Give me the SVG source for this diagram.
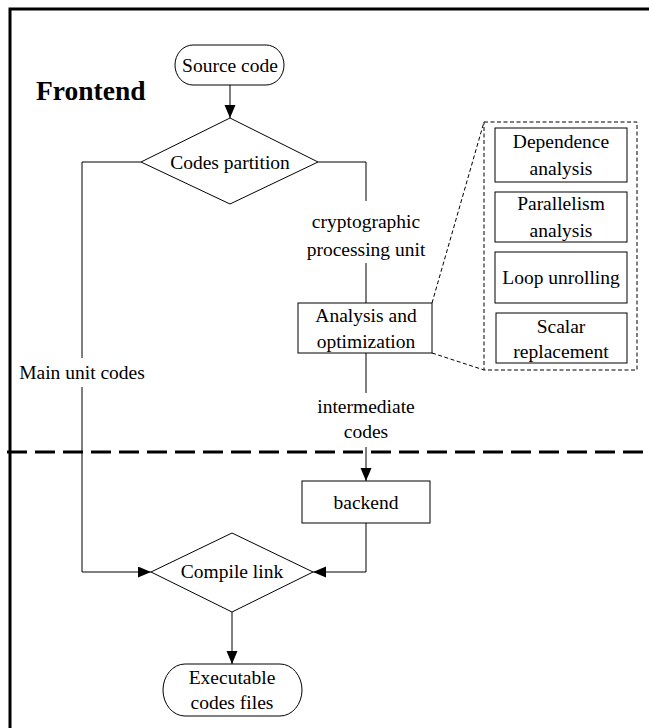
<svg xmlns="http://www.w3.org/2000/svg" width="649" height="728" viewBox="0 0 649 728">
<style>
text{font-family:"Liberation Serif","Times New Roman",serif;font-size:19.5px;fill:#000;text-anchor:middle}
.title{font-size:27.5px;font-weight:bold;text-anchor:start}
.sh{fill:#fff;stroke:#000;stroke-width:1}
.ln{fill:none;stroke:#000;stroke-width:1}
.dl{fill:none;stroke:#000;stroke-width:1;stroke-dasharray:4 2.5}
</style>
<defs>
<marker id="ah" markerUnits="userSpaceOnUse" markerWidth="14" markerHeight="12" refX="13" refY="5.5" orient="auto">
<path d="M0,0 L13,5.5 L0,11 z" fill="#000"/>
</marker>
</defs>
<rect width="649" height="728" fill="#fff"/>
<g id="frame">
<path d="M10,728 V9 H649" fill="none" stroke="#000" stroke-width="3"/>
<line x1="7" y1="452" x2="649" y2="452" stroke="#000" stroke-width="3" stroke-dasharray="20 8"/>
<text class="title" x="36" y="100">Frontend</text>
</g>
<g id="connectors">
<line class="ln" x1="230" y1="85" x2="230" y2="118" marker-end="url(#ah)"/>
<polyline class="ln" points="141,162 82,162 82,358"/>
<polyline class="ln" points="82,387 82,572 151,572" marker-end="url(#ah)"/>
<polyline class="ln" points="318,162 366,162 366,201"/>
<line class="ln" x1="366" y1="263" x2="366" y2="303"/>
<line class="ln" x1="366" y1="353" x2="366" y2="393"/>
<line class="ln" x1="366" y1="447" x2="366" y2="481" marker-end="url(#ah)"/>
<polyline class="ln" points="366,523 366,572 313,572" marker-end="url(#ah)"/>
<line class="ln" x1="232" y1="612" x2="232" y2="664" marker-end="url(#ah)"/>
<line class="dl" x1="432" y1="303" x2="484" y2="122"/>
<line class="dl" x1="432" y1="353" x2="484" y2="370"/>
<text x="82" y="379">Main unit codes</text>
<text x="366" y="228">cryptographic</text>
<text x="366" y="256">processing unit</text>
<text x="366" y="413">intermediate</text>
<text x="366" y="438">codes</text>
</g>
<g id="source">
<rect class="sh" x="175" y="45" width="109" height="40" rx="18" ry="20"/>
<text x="230" y="72">Source code</text>
</g>
<g id="partition">
<polygon class="sh" points="230,118 318,162 230,204 141,162"/>
<text x="230" y="169">Codes partition</text>
</g>
<g id="analysis">
<rect class="sh" x="298" y="303" width="134" height="50"/>
<text x="366" y="322">Analysis and</text>
<text x="366" y="348">optimization</text>
</g>
<g id="detail">
<rect class="dl" x="484" y="122" width="153" height="248"/>
</g>
<g id="dependence">
<rect class="sh" x="495" y="128" width="132" height="54"/>
<text x="561" y="148">Dependence</text>
<text x="561" y="175">analysis</text>
</g>
<g id="parallelism">
<rect class="sh" x="495" y="192" width="132" height="50"/>
<text x="561" y="210">Parallelism</text>
<text x="561" y="237">analysis</text>
</g>
<g id="loop">
<rect class="sh" x="495" y="252" width="132" height="51"/>
<text x="561" y="284">Loop unrolling</text>
</g>
<g id="scalar">
<rect class="sh" x="496" y="313" width="131" height="50"/>
<text x="561" y="333">Scalar</text>
<text x="561" y="358">replacement</text>
</g>
<g id="backend">
<rect class="sh" x="302" y="481" width="128" height="42"/>
<text x="366" y="509">backend</text>
</g>
<g id="compile">
<polygon class="sh" points="232,533 313,572 232,612 151,572"/>
<text x="232" y="578">Compile link</text>
</g>
<g id="executable">
<rect class="sh" x="163" y="664" width="139" height="52" rx="22" ry="26"/>
<text x="232" y="684">Executable</text>
<text x="232" y="709">codes files</text>
</g>
</svg>
